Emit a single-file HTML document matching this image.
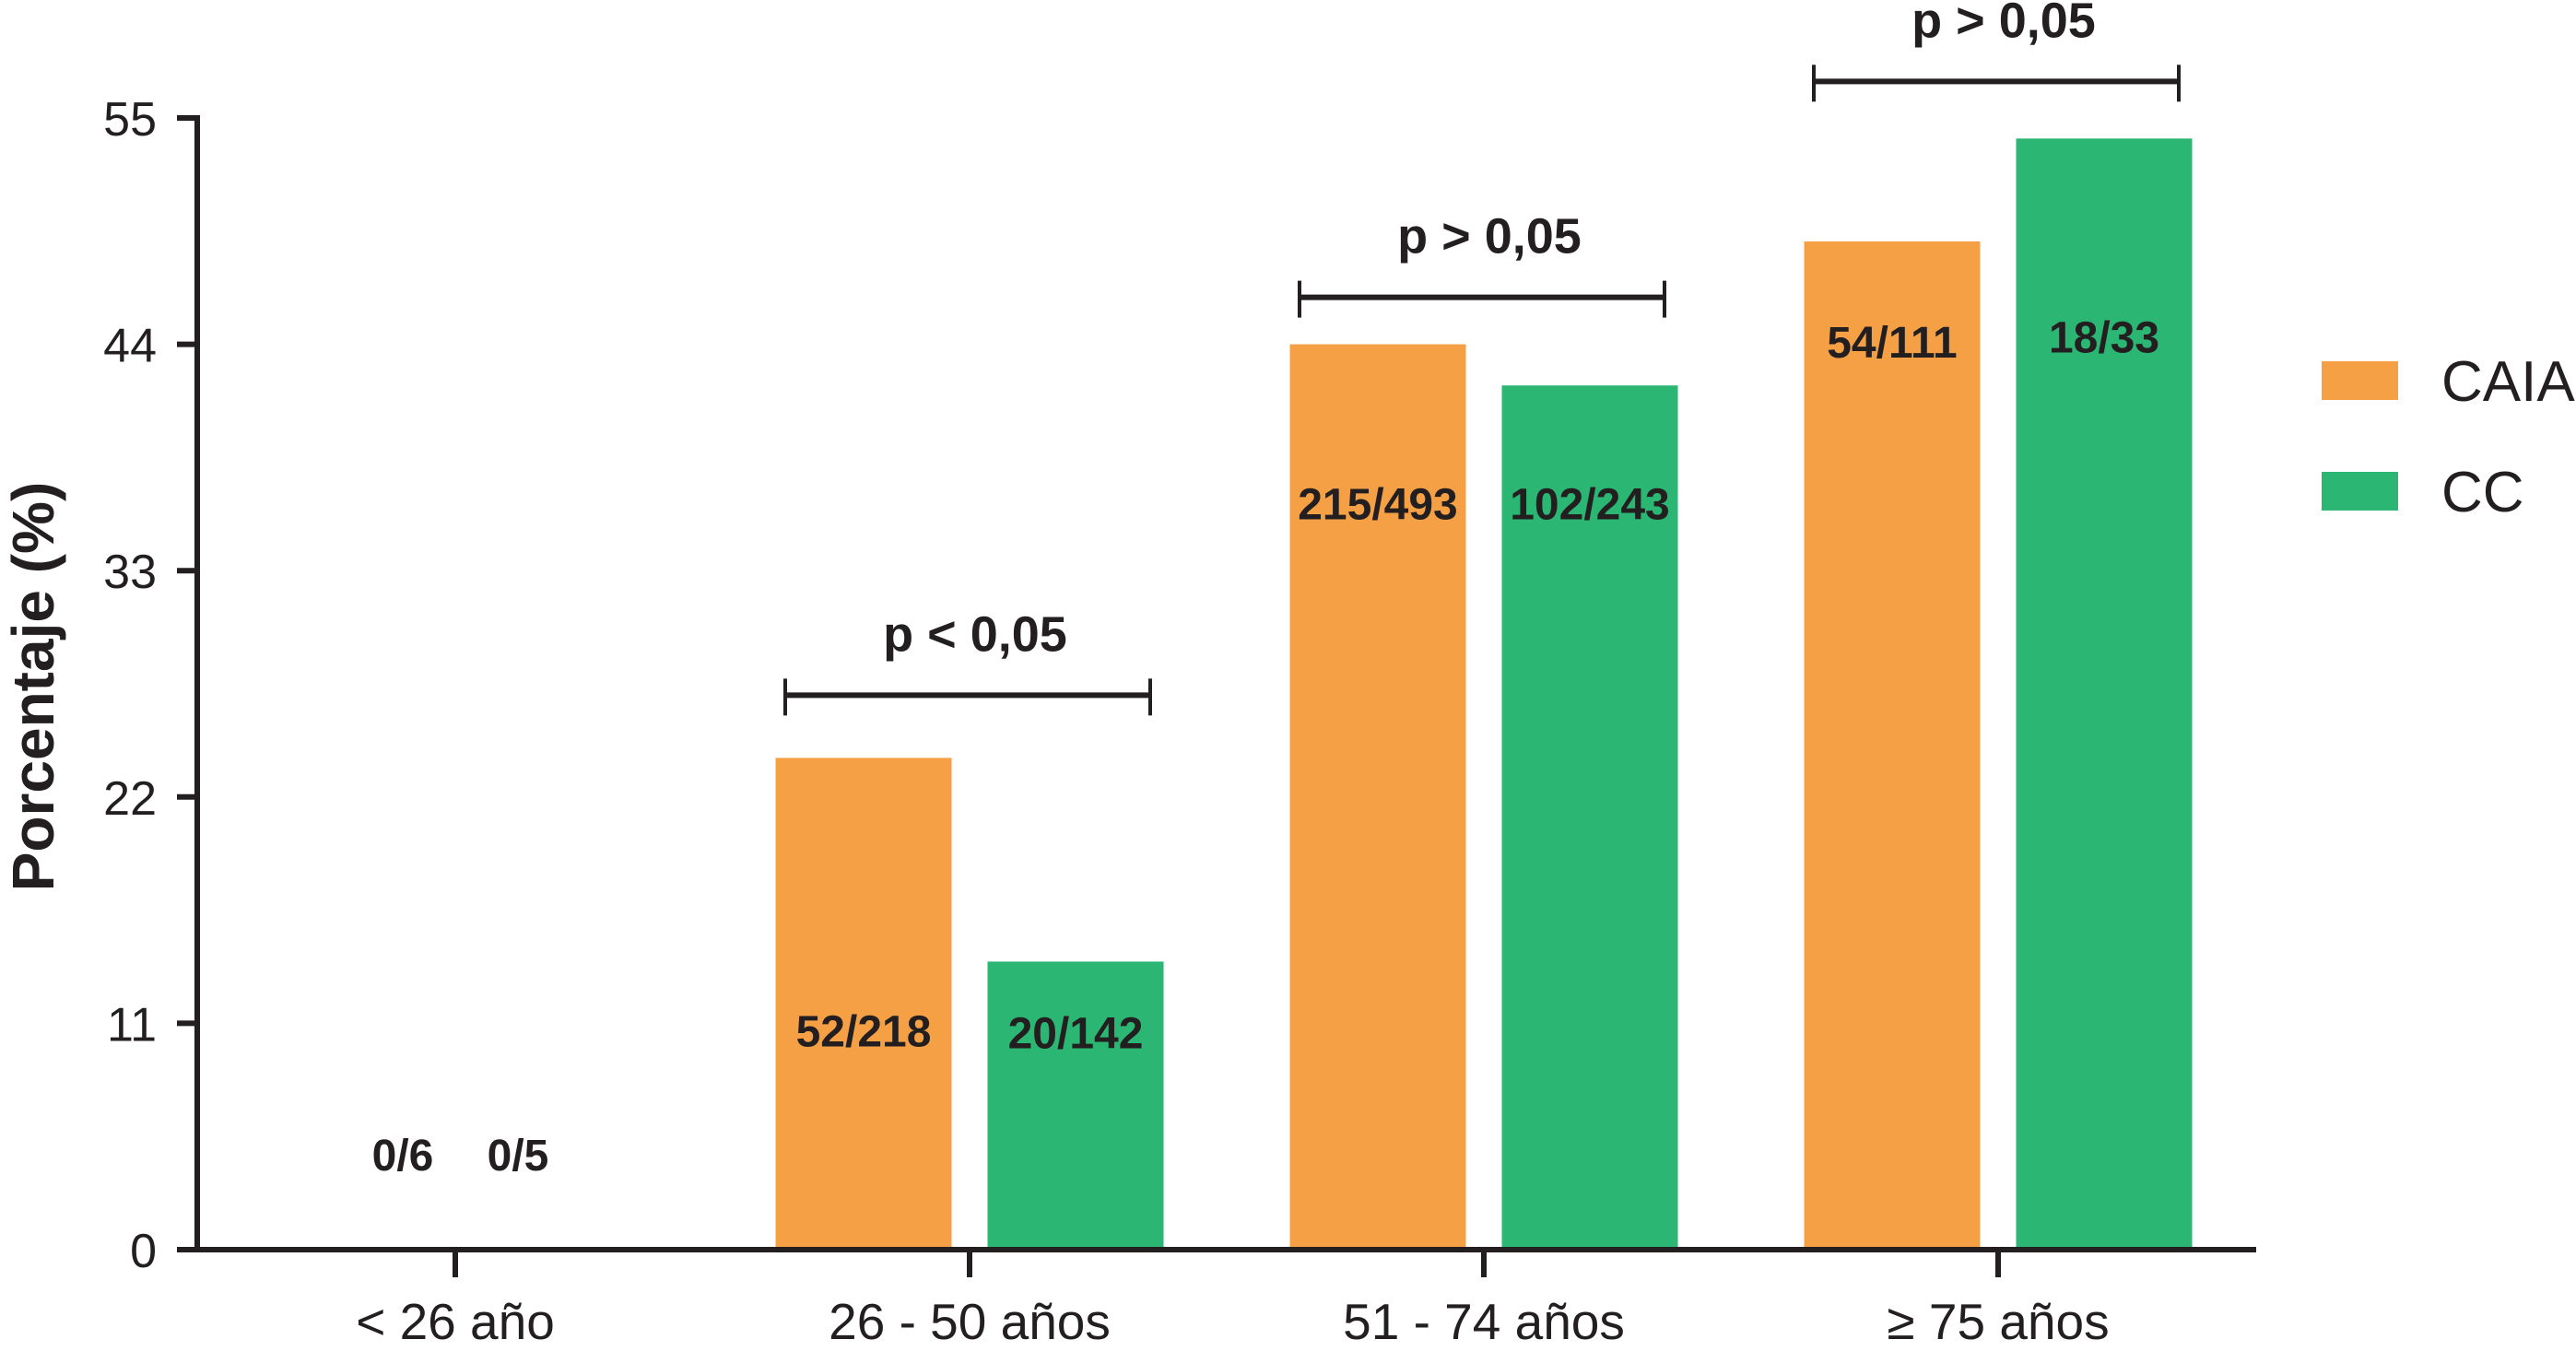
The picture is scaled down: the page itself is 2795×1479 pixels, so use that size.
<!DOCTYPE html>
<html><head><meta charset="utf-8"><style>
html,body{margin:0;padding:0;background:#fff;}
svg{display:block;font-family:"Liberation Sans",Arial,sans-serif;}
</style></head><body>
<svg id="chart" width="2795" height="1479" viewBox="0 0 2795 1479">
</svg>
<script>
const categories = ["< 26 año", "26 - 50 años", "51 - 74 años", "\u2265 75 años"];
const caiaValues = [0, 23.9, 44, 49];
const ccValues = [0, 14, 42, 54];
const caiaLabels = ["0/6", "52/218", "215/493", "54/111"];
const ccLabels = ["0/5", "20/142", "102/243", "18/33"];
const yTicks = [0, 11, 22, 33, 44, 55];
const pLabels = [null, "p < 0,05", "p > 0,05", "p > 0,05"];

const NS = "http://www.w3.org/2000/svg";
const svg = document.getElementById("chart");
const x0 = 214, xEnd = 2448, yBase = 1356, yTop = 128, yMax = 55;
const catX0 = 494, catStep = 558;
function yScale(v){ return yBase - (v / yMax) * (yBase - yTop); }
function xScale(i){ return catX0 + i * catStep; }
function mk(tag, attrs, parent){
  const e = document.createElementNS(NS, tag);
  for (const k in attrs) e.setAttribute(k, attrs[k]);
  (parent || svg).appendChild(e);
  return e;
}
const ORANGE = "#F5A045", GREEN = "#2BB673", INK = "#231F20";
const barW = 191, off = 115;

categories.forEach((c, i) => {
  const cx = xScale(i);
  [[caiaValues, caiaLabels, ORANGE, -off, "caia"], [ccValues, ccLabels, GREEN, off, "cc"]].forEach(([vals, labs, col, o, nm]) => {
    const v = vals[i];
    if (v > 0) {
      const r = mk("rect", {x: cx + o - barW/2, y: yScale(v), width: barW, height: yBase - yScale(v), fill: col});
      
      
    }
    let ly;
    if (v === 0) ly = 1253;
    else if (v > 46) ly = yScale(v) + (nm === "caia" ? 109 : 215);
    else if (v > 30) ly = yScale(v) + (nm === "caia" ? 173 : 128);
    else if (v > 20) ly = yScale(v) + 296;
    else ly = yScale(v) + 77;
    ly += 17;
    const lx = v === 0 ? (nm === "caia" ? 437 : 562) : cx + o;
    const t = mk("text", {x: lx, y: ly, "text-anchor": "middle", "font-size": 48, "font-weight": "bold", fill: INK});
    t.textContent = labs[i];
    
    
  });
  const tk = mk("line", {x1: cx, x2: cx, y1: yBase, y2: yBase + 30, stroke: INK, "stroke-width": 6});
  
  
  const xl = mk("text", {x: cx, y: 1453, "text-anchor": "middle", "font-size": 55, fill: INK});
  xl.textContent = c;
  
  
  if (pLabels[i]) {
    const top = Math.max(caiaValues[i], ccValues[i]);
    const by = yScale(top) - (i === 1 ? 68 : (i === 2 ? 51 : 62));
    const g = mk("g", {});
    
    
    mk("line", {x1: cx - 200, x2: cx + 196, y1: by, y2: by, stroke: INK, "stroke-width": 6}, g);
    mk("line", {x1: cx - 200, x2: cx - 200, y1: by - 18, y2: by + 22, stroke: INK, "stroke-width": 4}, g);
    mk("line", {x1: cx + 196, x2: cx + 196, y1: by - 18, y2: by + 22, stroke: INK, "stroke-width": 4}, g);
    const pt = mk("text", {x: cx + 6, y: by - 48, "text-anchor": "middle", "font-size": 54, "font-weight": "bold", fill: INK}, g);
    pt.textContent = pLabels[i];
  }
});

const ya = mk("line", {x1: x0, x2: x0, y1: yTop - 3, y2: yBase + 3, stroke: INK, "stroke-width": 6});


const xa = mk("line", {x1: x0 - 3, x2: xEnd, y1: yBase, y2: yBase, stroke: INK, "stroke-width": 6});


yTicks.forEach(v => {
  const y = yScale(v);
  const l = mk("line", {x1: x0 - 22, x2: x0, y1: y, y2: y, stroke: INK, "stroke-width": 6});
  
  
  const t = mk("text", {x: 170, y: y + 19, "text-anchor": "end", "font-size": 52, fill: INK});
  t.textContent = v;
  
  
});
const yt = mk("text", {x: 0, y: 0, transform: "translate(58,745) rotate(-90)", "text-anchor": "middle", "font-size": 64, "font-weight": "bold", fill: INK});
yt.textContent = "Porcentaje (%)";



[["CAIA", ORANGE, 392], ["CC", GREEN, 512]].forEach(([n, col, y]) => {
  const g = mk("g", {});
  
  
  mk("rect", {x: 2519, y: y, width: 83, height: 42, fill: col}, g);
  const t = mk("text", {x: 2649, y: y + 43, "font-size": 62, fill: INK}, g);
  t.textContent = n;
});
</script>
</body></html>
